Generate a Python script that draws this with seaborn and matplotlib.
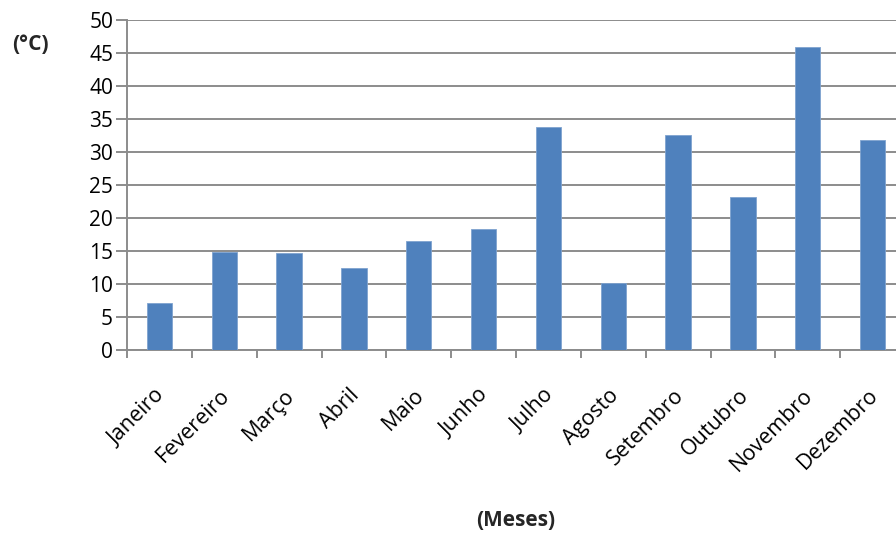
import pandas as pd
import seaborn as sns
import matplotlib.pyplot as plt
import numpy as np

meses = ['Janeiro', 'Fevereiro', 'Março', 'Abril', 'Maio', 'Junho',
         'Julho', 'Agosto', 'Setembro', 'Outubro', 'Novembro', 'Dezembro']
temperaturas = [7.1, 14.9, 14.6, 12.4, 16.5, 18.3, 33.8, 10.1, 32.5, 23.1, 45.8, 31.7]

df = pd.DataFrame({'mes': meses, 'temp': temperaturas})

sns.set_style('white')
plt.rcParams['font.family'] = ['Open Sans', 'DejaVu Sans']

fig = plt.figure(figsize=(8.96, 5.36), dpi=100)
ax = fig.add_axes([127/896, 1 - 350/536, 778/896, 330.5/536])

bar_color = '#4F81BD'
sns.barplot(x='mes', y='temp', data=df, color=bar_color, width=0.39,
            edgecolor='#7FA3CF', linewidth=0.6, saturation=1, ax=ax, zorder=3)

grid_color = '#8C8C8C'
ax.set_ylim(0, 50)
ax.set_yticks(np.arange(0, 51, 5))
ax.yaxis.grid(True, color=grid_color, linewidth=1.4, zorder=0)
ax.set_axisbelow(True)
ax.set_xlim(-0.5, 11.5)

# ticks between categories, labels at the centre
ax.set_xticks(np.arange(len(meses)) - 0.08)
ax.set_xticklabels(meses, rotation=45, ha='right', rotation_mode='anchor', fontsize=15.5)
ax.set_xticks(np.arange(-0.5, len(meses), 1), minor=True)
ax.tick_params(axis='x', which='major', bottom=True, length=0, pad=25)
ax.tick_params(axis='x', which='minor', bottom=True, length=6, width=1.4,
               color=grid_color, direction='out')
ax.tick_params(axis='y', left=True, length=8, width=1.4, color=grid_color, direction='out',
               labelsize=15, pad=2)
ax.tick_params(axis='both', colors=grid_color, labelcolor='black')

for side in ['top', 'right']:
    ax.spines[side].set_visible(False)
for side in ['left', 'bottom']:
    ax.spines[side].set_color(grid_color)
    ax.spines[side].set_linewidth(1.4)

ax.set_xlabel('(Meses)', fontsize=15, fontweight='bold', labelpad=25)
ax.set_ylabel('')
fig.text(30/896, 1 - 44/536, '(°C)', fontsize=15, fontweight='bold',
         ha='center', va='center')

plt.savefig('out.png', dpi=100)
